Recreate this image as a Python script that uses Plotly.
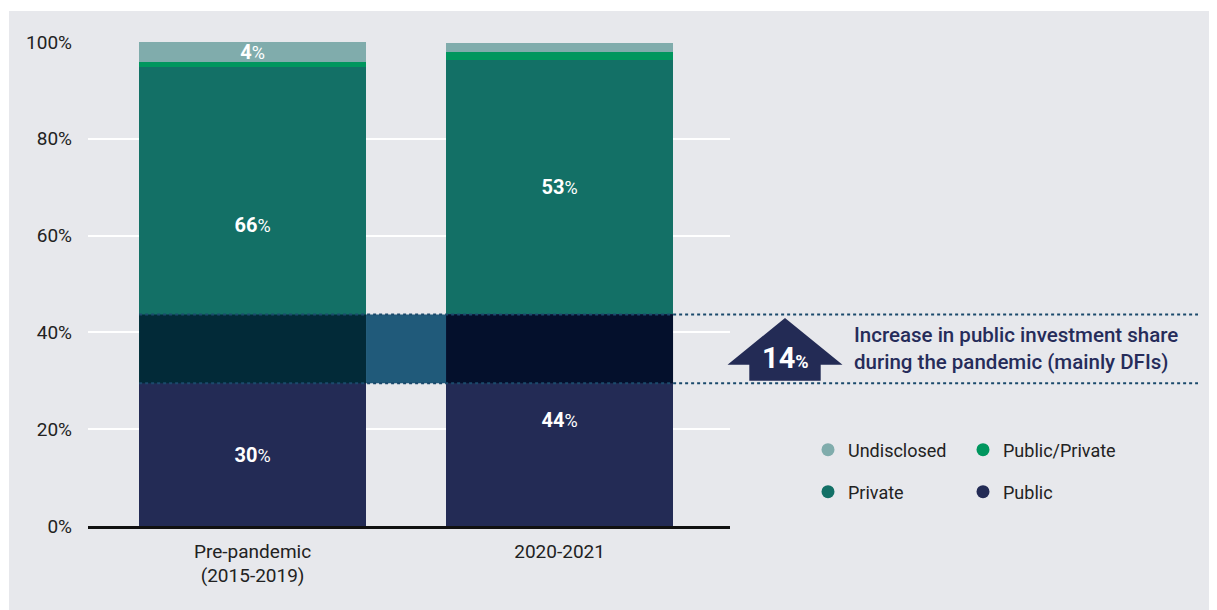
import plotly.graph_objects as go

periods = ["Pre-pandemic<br>(2015-2019)", "2020-2021"]
public = [29.5, 43.7]
private = [65.3, 52.6]
public_private = [1.1, 1.7]
undisclosed = [4.1, 1.7]

public_lbl = ["30", "44"]
private_lbl = ["66", "53"]
undisclosed_lbl = ["4", ""]

y_ticks = [0, 20, 40, 60, 80, 100]

increase_lbl = "14"
note = "Increase in public investment share<br>during the pandemic (mainly DFIs)"

C_PUBLIC = "#232b55"
C_PRIVATE = "#137066"
C_PP = "#00965e"
C_UND = "#80acac"
BG = "#e7e8ec"
FONT = "Roboto"

# page is offset by the 8px body margin; positions below are page pixels
W, H, O = 1217, 610, 8
L, R, T, B = 88, 730, 42, 526
BAR_W = 0.739
XR = [-0.536, 1.555]


def px_x(p):
    return (p - L) / (R - L)


def px_y(p):
    return (B - p) / (B - T)


def x_paper(v):
    return (v - XR[0]) / (XR[1] - XR[0])


def pct(nums):
    return ["<b>%s</b><span style='font-size:18px'>%%</span>" % n if n else "" for n in nums]


fig = go.Figure()

def add_bar(vals, color, txt=None):
    fig.add_trace(go.Bar(
        x=periods, y=vals,
        marker=dict(color=color, line=dict(width=0)),
        width=BAR_W,
        text=pct(txt) if txt else None,
        textposition="inside",
        insidetextanchor="middle",
        textangle=0,
        constraintext="none",
        textfont=dict(color="white", size=20, family=FONT),
        showlegend=False,
        hoverinfo="skip",
    ))

add_bar(public, C_PUBLIC, public_lbl)
add_bar(private, C_PRIVATE, private_lbl)
add_bar(public_private, C_PP)
add_bar(undisclosed, C_UND, undisclosed_lbl)

# legend entries with round symbols
legend_items = [("Undisclosed", C_UND, "legend"), ("Public/Private", C_PP, "legend"),
                ("Private", C_PRIVATE, "legend2"), ("Public", C_PUBLIC, "legend2")]
for name, col, lg in legend_items:
    fig.add_trace(go.Scatter(
        x=[None], y=[None], mode="markers", name=name, legend=lg,
        marker=dict(symbol="circle", size=13, color=col),
    ))

lo, hi = public[0], public[1]
shapes = []
# gray card behind everything
shapes.append(dict(type="rect", xref="paper", yref="paper",
                   x0=px_x(9), x1=px_x(W + 20), y0=px_y(11), y1=px_y(H + 20),
                   fillcolor=BG, line=dict(width=0), layer="below"))
# band showing the public increase
band = [(0 - BAR_W / 2, 0 + BAR_W / 2, "#022a38"),
        (0 + BAR_W / 2, 1 - BAR_W / 2, "#205a7a"),
        (1 - BAR_W / 2, 1 + BAR_W / 2, "#04102c")]
for x0, x1, col in band:
    shapes.append(dict(type="rect", xref="x", yref="y", x0=x0, x1=x1, y0=lo, y1=hi,
                       fillcolor=col, line=dict(width=0), layer="above"))
for yv in (lo, hi):
    shapes.append(dict(type="line", xref="paper", yref="y",
                       x0=x_paper(-BAR_W / 2), x1=px_x(1198), y0=yv, y1=yv,
                       line=dict(color="#1b4a6c", width=2, dash="dot"), layer="above"))

# up arrow
cx = px_x(785)
hw, sw = 57.5 / (R - L), 35.7 / (R - L)
tip, shoulder, base = 43.0, 33.3, 30.0
path = ("M %f,%f L %f,%f L %f,%f L %f,%f L %f,%f L %f,%f L %f,%f Z" %
        (cx, tip, cx + hw, shoulder, cx + sw, shoulder, cx + sw, base,
         cx - sw, base, cx - sw, shoulder, cx - hw, shoulder))
shapes.append(dict(type="path", xref="paper", yref="y", path=path,
                   fillcolor=C_PUBLIC, line=dict(width=0)))

annotations = [
    dict(xref="paper", yref="y", x=cx, y=34.8, showarrow=False,
         text="<b>%s</b><b><span style='font-size:18px'>%%</span></b>" % increase_lbl,
         font=dict(color="white", size=29, family=FONT), xanchor="center", yanchor="middle"),
    dict(xref="paper", yref="y", x=px_x(852), y=36.7, showarrow=False, text=note,
         align="left", xanchor="left", yanchor="middle",
         font=dict(color="#262c5a", size=20.5, family=FONT, weight=500)),
]

fig.update_layout(
    width=W, height=H,
    margin=dict(l=L - O, r=W - (R - O), t=T - O, b=H - (B - O), pad=0),
    paper_bgcolor="white", plot_bgcolor=BG,
    barmode="stack", bargap=0,
    font=dict(family=FONT, color="#222222", size=19),
    shapes=shapes, annotations=annotations,
    xaxis=dict(range=XR, showgrid=False, showline=True, linecolor="#111111", linewidth=2.5,
               ticks="", tickfont=dict(size=19, color="#222222"), ticklabelstandoff=6,
               fixedrange=True),
    yaxis=dict(range=[0, 100], tickmode="array", tickvals=y_ticks,
               ticktext=["%d%%" % v for v in y_ticks],
               showgrid=True, gridcolor="white", gridwidth=1.5, zeroline=False,
               showline=False, tickfont=dict(size=19, color="#222222"),
               ticklabelstandoff=15, fixedrange=True),
    legend=dict(orientation="h", x=px_x(808), y=px_y(450), xanchor="left", yanchor="middle",
                traceorder="normal", bgcolor="rgba(0,0,0,0)",
                font=dict(size=18, color="#222222"),
                entrywidth=110, entrywidthmode="pixels"),
    legend2=dict(orientation="h", x=px_x(808), y=px_y(492), xanchor="left", yanchor="middle",
                 traceorder="normal", bgcolor="rgba(0,0,0,0)",
                 font=dict(size=18, color="#222222"),
                 entrywidth=110, entrywidthmode="pixels"),
)

fig.write_html("out.html")
